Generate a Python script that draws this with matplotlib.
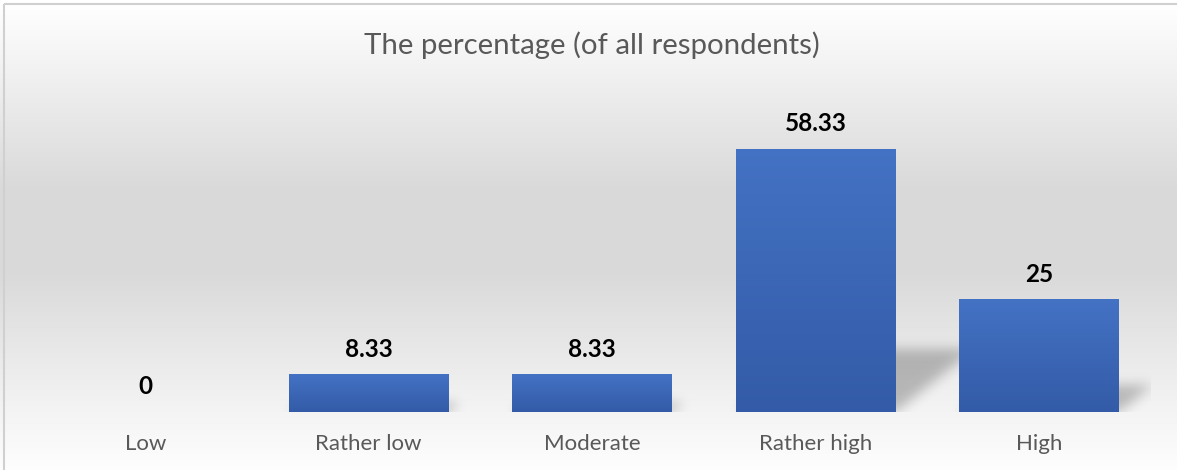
import numpy as np
import matplotlib.pyplot as plt
from matplotlib.colors import LinearSegmentedColormap

categories = ['Low', 'Rather low', 'Moderate', 'Rather high', 'High']
percentages = [0, 8.33, 8.33, 58.33, 25]
title = 'The percentage (of all respondents)'

W, H, DPI = 1177, 470, 100
plt.rcParams['font.family'] = ['Lato', 'DejaVu Sans']
text_grey = '#595959'


def blur(a, sigma):
    # separable gaussian blur, done with plain numpy
    r = int(3 * sigma)
    k = np.exp(-0.5 * (np.arange(-r, r + 1) / sigma) ** 2)
    k /= k.sum()
    a = np.apply_along_axis(lambda m: np.convolve(m, k, mode='same'), 0, a)
    a = np.apply_along_axis(lambda m: np.convolve(m, k, mode='same'), 1, a)
    return a


fig = plt.figure(figsize=(W / DPI, H / DPI), dpi=DPI)

# chart area background: white -> light grey -> white, top to bottom
bg = fig.add_axes([0, 0, 1, 1])
rows = np.arange(H)
shade = np.interp(rows, [0, 5, 190, 270, 400, 470],
                  [1.0, 1.0, 0.851, 0.851, 0.949, 0.995])
bg.imshow(shade[:, None, None] * np.ones((1, 1, 3)), aspect='auto',
          extent=[0, 1, 0, 1], interpolation='bilinear')
bg.set_xlim(0, 1)
bg.set_ylim(0, 1)
bg.axis('off')
# chart frame (only the left and top edges are in view)
bg.plot([4 / W, 4 / W], [0, 1 - 4 / H], color='#d0d0d0', lw=1.5,
        solid_capstyle='butt')
bg.plot([4 / W, 1], [1 - 4 / H, 1 - 4 / H], color='#d0d0d0', lw=1.5,
        solid_capstyle='butt')

ax = fig.add_axes([33.5 / W, 58 / H, 1117 / W, 316 / H])
ax.set_xlim(-0.5, 4.5)
ax.set_ylim(0, 70)
ax.patch.set_alpha(0)
for s in ax.spines.values():
    s.set_visible(False)
ax.set_yticks([])

x = np.arange(len(categories))
bar_w = 0.713

# perspective shadows cast to the lower right of each bar
nx, ny = 1117, 316
px_x = nx / 5
px_y = ny / 70
X = np.arange(nx)[None, :] + 0.5
Y = (ny - np.arange(ny))[:, None] - 0.5
mask = np.zeros((ny, nx))
for xi, v in zip(x, percentages):
    sh = 0.24 * v * px_y
    if sh <= 0:
        continue
    shift = 1.25 * Y
    x0 = (xi - bar_w / 2 + 0.5) * px_x
    x1 = (xi + bar_w / 2 + 0.5) * px_x
    inside = (Y >= 0) & (Y <= sh) & (X >= x0 + shift) & (X <= x1 + shift)
    mask = np.maximum(mask, inside.astype(float))
mask = blur(mask, 6)
shadow = np.zeros((ny, nx, 4))
shadow[..., 3] = 0.24 * mask
ax.imshow(shadow, extent=(-0.5, 4.5, 0, 70), aspect='auto', zorder=1,
          interpolation='bilinear')

bars = ax.bar(x, percentages, width=bar_w, color='none', zorder=2)
grad = LinearSegmentedColormap.from_list('bar', ['#335ba7', '#4472c4'])
for b in bars:
    if b.get_height() <= 0:
        continue
    x0, y0 = b.get_x(), b.get_y()
    img = ax.imshow(np.linspace(0, 1, 256)[::-1, None], cmap=grad,
                    aspect='auto', zorder=2,
                    extent=(x0, x0 + b.get_width(), y0, y0 + b.get_height()))
    img.set_clip_path(b)

for xi, v in zip(x, percentages):
    ax.annotate(f'{v:g}', (xi, v), xytext=(0, 18), textcoords='offset points',
                ha='center', va='center', fontsize=17.5, fontweight='bold',
                color='black')

ax.set_xticks(x, categories)
ax.tick_params(axis='x', length=0, pad=15.5, labelsize=16,
               labelcolor=text_grey)
ax.set_xlim(-0.5, 4.5)
ax.set_ylim(0, 70)

fig.text(592 / W, 1 - 45 / H, title, ha='center', va='center',
         fontsize=21.2, color=text_grey)

fig.savefig('out.png', dpi=DPI)
